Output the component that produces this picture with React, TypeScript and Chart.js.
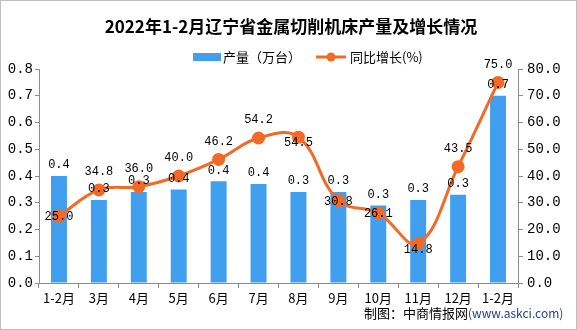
import React, { useEffect, useRef } from 'react';
import { Chart, registerables } from 'chart.js';

Chart.register(...registerables);

const categories = ['1-2月', '3月', '4月', '5月', '6月', '7月', '8月', '9月', '10月', '11月', '12月', '1-2月'];
const outputValues = [0.40, 0.31, 0.34, 0.35, 0.38, 0.37, 0.34, 0.34, 0.29, 0.31, 0.33, 0.70];
const growthValues = [25.0, 34.8, 36.0, 40.0, 46.2, 54.2, 54.5, 30.8, 26.1, 14.8, 43.5, 75.0];
const growthLabelPlace = ['center', 'above', 'above', 'above', 'above', 'above', 'below', 'center', 'center', 'below', 'above', 'above'];
const titleText = '2022年1-2月辽宁省金属切削机床产量及增长情况';
const barLegend = '产量（万台）';
const lineLegend = '同比增长(%)';
const creditMain = '制图：中商情报网';
const creditSite = '(www.askci.com)';

const BAR_COLOR = '#409FEF';
const LINE_COLOR = '#F26A26';
const AXIS_COLOR = '#8C8C8C';
const MONO = '"Liberation Mono", "DejaVu Sans Mono", monospace';
const CJK = '"Noto Sans CJK SC", "Noto Sans", sans-serif';

const decor = {
  id: 'decor',
  beforeDraw(chart: any) {
    const ctx = chart.ctx;
    ctx.save();
    ctx.fillStyle = '#ffffff';
    ctx.fillRect(0, 0, chart.width, chart.height);
    ctx.strokeStyle = '#BFBFBF';
    ctx.lineWidth = 1;
    ctx.strokeRect(0.5, 0.5, chart.width - 1, chart.height - 1);
    // title
    ctx.fillStyle = '#000';
    ctx.font = 'bold 17px ' + CJK;
    ctx.textAlign = 'center';
    ctx.textBaseline = 'middle';
    ctx.fillText(titleText, 291, 27);
    // legend
    ctx.fillStyle = BAR_COLOR;
    ctx.fillRect(193, 53, 28, 8);
    ctx.fillStyle = '#000';
    ctx.font = '13px ' + CJK;
    ctx.textAlign = 'left';
    ctx.fillText(barLegend, 223, 57);
    ctx.strokeStyle = LINE_COLOR;
    ctx.lineWidth = 3;
    ctx.beginPath();
    ctx.moveTo(316, 57);
    ctx.lineTo(346, 57);
    ctx.stroke();
    ctx.fillStyle = LINE_COLOR;
    ctx.beginPath();
    ctx.arc(331, 57, 4.5, 0, Math.PI * 2);
    ctx.fill();
    ctx.fillStyle = '#000';
    ctx.fillText(lineLegend, 350, 57);
    // credit
    ctx.font = '13px ' + CJK;
    ctx.textAlign = 'left';
    ctx.fillText(creditMain, 364, 313);
    const w = ctx.measureText(creditMain).width;
    ctx.fillStyle = '#1F3F8F';
    ctx.font = '12px ' + CJK;
    ctx.fillText(creditSite, 364 + w, 313);
    ctx.restore();
  },
  afterDatasetsDraw(chart: any) {
    const ctx = chart.ctx;
    ctx.save();
    ctx.fillStyle = '#000';
    ctx.font = '12px ' + MONO;
    ctx.textAlign = 'center';
    ctx.textBaseline = 'middle';
    const barMeta = chart.getDatasetMeta(0);
    barMeta.data.forEach((el: any, i: number) => {
      const v = Math.round(outputValues[i] * 10) / 10;
      ctx.fillText(v.toFixed(1), el.x, el.y - 11);
    });
    const lineMeta = chart.getDatasetMeta(1);
    lineMeta.data.forEach((el: any, i: number) => {
      const p = growthLabelPlace[i];
      const dy = p === 'above' ? -18 : p === 'below' ? 6 : 1;
      ctx.fillText(growthValues[i].toFixed(1), el.x, el.y + dy);
    });
    ctx.restore();
  },
};

export default function App() {
  const ref = useRef<HTMLCanvasElement>(null);
  useEffect(() => {
    document.body.style.margin = '0';
    const chart = new Chart(ref.current!, {
      type: 'bar',
      data: {
        labels: categories,
        datasets: [
          {
            type: 'bar',
            label: barLegend,
            data: outputValues,
            backgroundColor: BAR_COLOR,
            yAxisID: 'y',
            barPercentage: 0.4,
            categoryPercentage: 1,
            order: 2,
          },
          {
            type: 'line',
            label: lineLegend,
            data: growthValues,
            borderColor: LINE_COLOR,
            backgroundColor: LINE_COLOR,
            borderWidth: 3,
            pointRadius: 5,
            pointHoverRadius: 5,
            tension: 0.4,
            yAxisID: 'y1',
            order: 1,
          },
        ],
      },
      options: {
        responsive: false,
        animation: false,
        devicePixelRatio: 1,
        layout: { padding: { top: 69, left: 0, right: 0, bottom: 0 } },
        plugins: { legend: { display: false }, title: { display: false }, tooltip: { enabled: false } },
        scales: {
          x: {
            offset: true,
            grid: { offset: true, drawOnChartArea: false, tickLength: 5, color: AXIS_COLOR },
            border: { color: AXIS_COLOR },
            ticks: { color: '#000', font: { size: 13, family: CJK }, padding: 2, maxRotation: 0, autoSkip: false },
            afterFit(scale: any) { scale.height = 47; },
          },
          y: {
            position: 'left',
            min: 0,
            max: 0.8,
            ticks: { stepSize: 0.1, color: '#000', font: { size: 14, family: MONO }, padding: 2, callback: (v: any) => Number(v).toFixed(1) },
            grid: { drawOnChartArea: false, tickLength: 4, color: AXIS_COLOR },
            border: { color: AXIS_COLOR },
            afterFit(scale: any) { scale.width = 39; },
          },
          y1: {
            position: 'right',
            min: 0,
            max: 80,
            ticks: { stepSize: 10, color: '#000', font: { size: 14, family: MONO }, padding: 4, callback: (v: any) => Number(v).toFixed(1) },
            grid: { drawOnChartArea: false, tickLength: 5, color: AXIS_COLOR },
            border: { color: AXIS_COLOR },
            afterFit(scale: any) { scale.width = 59; },
          },
        },
      },
      plugins: [decor],
    });
    return () => chart.destroy();
  }, []);
  return <canvas ref={ref} width={577} height={330} style={{ display: 'block' }} />;
}
